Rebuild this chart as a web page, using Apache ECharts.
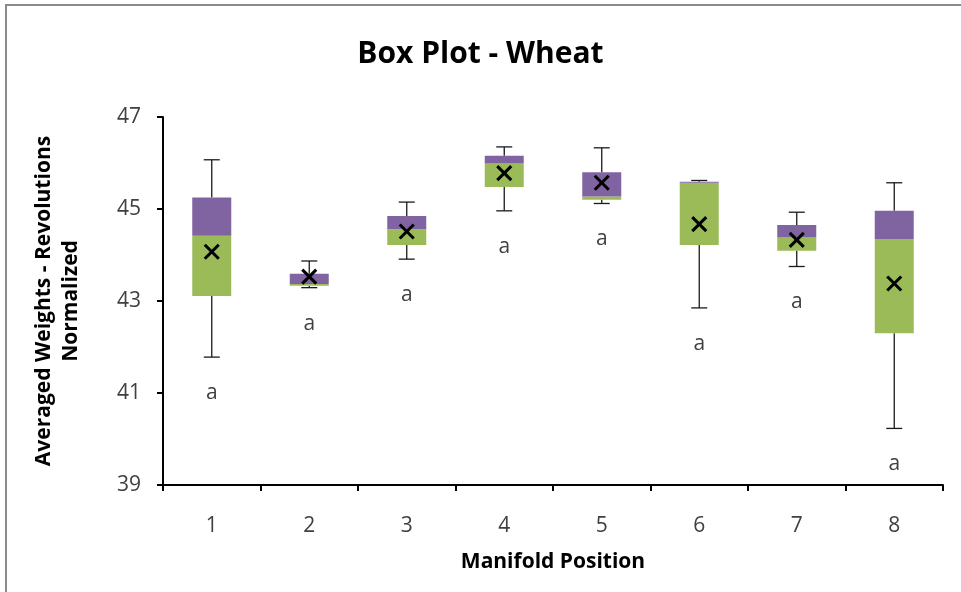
<!DOCTYPE html>
<html>
  <head>
    <title>Box Plot - Wheat</title>
    <style>
      html, body {
        margin: 0;
        padding: 0;
        width: 100%;
        height: 100%;
        background: #fff;
        overflow: hidden;
      }
      .frame {
        position: absolute;
        left: 5px;
        top: 4px;
        width: 2000px;
        height: 2000px;
        border-top: 2px solid #8a8a8a;
        border-left: 2px solid #8a8a8a;
      }
      #container {
        position: absolute;
        left: 0;
        top: 0;
        width: 961px;
        height: 592px;
      }
    </style>
  </head>
  <body>
    <div class="frame"></div>
    <div id="container"></div>
    <script src="https://cdn.jsdelivr.net/npm/echarts@6/dist/echarts.min.js"></script>
    <script type="text/javascript">

      const positions = ['1', '2', '3', '4', '5', '6', '7', '8'];
      const minVals    = [41.78, 43.29, 43.91, 44.96, 45.12, 42.85, 43.75, 40.23];
      const q1Vals     = [43.11, 43.33, 44.22, 45.48, 45.20, 44.22, 44.09, 42.30];
      const medianVals = [44.42, 43.37, 44.56, 45.99, 45.27, 45.57, 44.38, 44.35];
      const q3Vals     = [45.25, 43.59, 44.85, 46.16, 45.80, 45.59, 44.65, 44.96];
      const maxVals    = [46.07, 43.87, 45.15, 46.35, 46.33, 45.62, 44.93, 45.57];
      const meanVals   = [44.07, 43.53, 44.51, 45.78, 45.57, 44.67, 44.33, 43.38];
      const groupLetters = ['a', 'a', 'a', 'a', 'a', 'a', 'a', 'a'];
      const yTicks = [39, 41, 43, 45, 47];

      const GREEN = '#9bbb59';
      const PURPLE = '#8064a2';
      const FONT = '"Open Sans", sans-serif';

      const boxData = positions.map((p, i) => [
        i, minVals[i], q1Vals[i], medianVals[i], q3Vals[i], maxVals[i], meanVals[i]
      ]);

      const renderBox = (params, api) => {
        const x = api.value(0);
        const pMin = api.coord([x, api.value(1)]);
        const pQ1 = api.coord([x, api.value(2)]);
        const pMed = api.coord([x, api.value(3)]);
        const pQ3 = api.coord([x, api.value(4)]);
        const pMax = api.coord([x, api.value(5)]);
        const pMean = api.coord([x, api.value(6)]);
        const cx = pMin[0];
        const boxW = 39;
        const capW = 16;
        const xs = 7;
        const line = { stroke: '#1a1a1a', lineWidth: 1.3 };
        const cross = { stroke: '#000', lineWidth: 3 };

        return {
          type: 'group',
          children: [
            { type: 'line', shape: { x1: cx, y1: pMin[1], x2: cx, y2: pQ1[1] }, style: line },
            { type: 'line', shape: { x1: cx, y1: pQ3[1], x2: cx, y2: pMax[1] }, style: line },
            { type: 'line', shape: { x1: cx - capW / 2, y1: pMin[1], x2: cx + capW / 2, y2: pMin[1] }, style: line },
            { type: 'line', shape: { x1: cx - capW / 2, y1: pMax[1], x2: cx + capW / 2, y2: pMax[1] }, style: line },
            {
              type: 'rect',
              shape: { x: cx - boxW / 2, y: pMed[1], width: boxW, height: pQ1[1] - pMed[1] },
              style: { fill: GREEN }
            },
            {
              type: 'rect',
              shape: { x: cx - boxW / 2, y: pQ3[1], width: boxW, height: pMed[1] - pQ3[1] },
              style: { fill: PURPLE }
            },
            { type: 'line', shape: { x1: cx - xs, y1: pMean[1] - xs, x2: cx + xs, y2: pMean[1] + xs }, style: cross },
            { type: 'line', shape: { x1: cx - xs, y1: pMean[1] + xs, x2: cx + xs, y2: pMean[1] - xs }, style: cross },
            {
              type: 'text',
              style: {
                x: cx,
                y: pMin[1] + 36,
                text: groupLetters[params.dataIndex],
                fill: '#404040',
                font: '21px ' + FONT,
                align: 'center',
                verticalAlign: 'middle'
              }
            }
          ]
        };
      };

      const chart = echarts.init(document.getElementById('container'));
      chart.setOption({
        animation: false,
        title: {
          text: 'Box Plot - Wheat',
          left: 'center',
          top: 22,
          textStyle: { fontFamily: FONT, fontSize: 30, fontWeight: 'bold', color: '#000' }
        },
        grid: { left: 163, right: 18, top: 117, bottom: 107 },
        xAxis: {
          type: 'category',
          data: positions,
          boundaryGap: true,
          name: 'Manifold Position',
          nameLocation: 'middle',
          nameGap: 58,
          nameMoveOverlap: false,
          nameTextStyle: { fontFamily: FONT, fontSize: 21, fontWeight: 'bold', color: '#000' },
          axisLine: { lineStyle: { color: '#000', width: 2 } },
          axisTick: { show: true, alignWithLabel: false, length: 6, lineStyle: { color: '#000', width: 2 } },
          axisLabel: { fontFamily: FONT, fontSize: 21, color: '#404040', margin: 24 },
          splitLine: { show: false }
        },
        yAxis: {
          type: 'value',
          min: yTicks[0],
          max: yTicks[yTicks.length - 1],
          interval: 2,
          name: 'Averaged Weights - Revolutions\nNormalized',
          nameLocation: 'middle',
          nameGap: 78,
          nameTextStyle: { fontFamily: FONT, fontSize: 21, fontWeight: 'bold', color: '#000', lineHeight: 27 },
          axisLine: { show: true, lineStyle: { color: '#000', width: 2 } },
          axisTick: { show: true, length: 6, lineStyle: { color: '#000', width: 2 } },
          axisLabel: { fontFamily: FONT, fontSize: 21, color: '#404040', margin: 22 },
          splitLine: { show: false }
        },
        series: [{
          type: 'custom',
          renderItem: renderBox,
          encode: { x: 0, y: [1, 2, 3, 4, 5] },
          data: boxData,
          clip: false
        }]
      });
    </script>
  </body>
</html>
